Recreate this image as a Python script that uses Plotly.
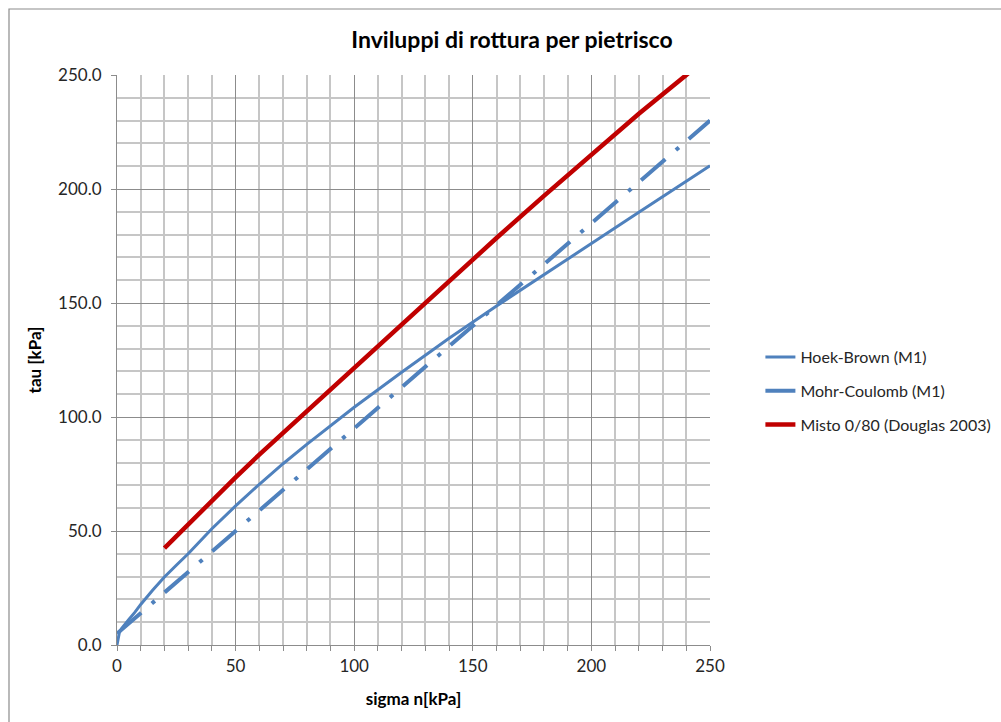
import plotly.graph_objects as go

# Hoek-Brown (M1)
hb_sigma = [0, 0.5, 1, 2, 3, 5, 7.5, 10, 15, 20, 25, 30, 40, 50, 60, 70, 80, 90, 100,
            120, 140, 160, 180, 200, 220, 240, 250]
hb_tau = [0, 3.5, 5.5, 7.3, 8.7, 11.2, 14.3, 17.8, 24, 29.8, 35, 40, 51, 61, 70.5, 79.5, 88,
          96.3, 104.3, 119.6, 134.5, 148.7, 162.5, 176, 189.8, 203.4, 210.2]

# Mohr-Coulomb (M1)
mc_sigma = [0, 50, 100, 150, 200, 250]
mc_tau = [5, 50, 95, 140, 185, 230]

# Misto 0/80 (Douglas 2003)
mi_sigma = [20, 30, 40, 50, 60, 70, 80, 90, 100, 120, 140, 160, 180, 200, 220, 240, 250]
mi_tau = [42.5, 53, 63.5, 73.5, 83.5, 93, 103, 112.5, 122, 141, 160, 178.5, 197, 215,
          233, 250, 259]

FONT = "Lato, Carlito, Calibri, sans-serif"

fig = go.Figure()
fig.add_trace(go.Scatter(x=hb_sigma, y=hb_tau, mode="lines", name="Hoek-Brown (M1)",
                         line=dict(color="#4f81bd", width=3), legendgroup="a"))
fig.add_trace(go.Scatter(x=mc_sigma, y=mc_tau, mode="lines", name="Mohr-Coulomb (M1)",
                         line=dict(color="#4f81bd", width=4, dash="32px,14px,4px,13px"),
                         legendgroup="b"))
fig.add_trace(go.Scatter(x=mi_sigma, y=mi_tau, mode="lines", name="Misto 0/80 (Douglas 2003)",
                         line=dict(color="#c00000", width=4.5), legendgroup="c"))

fig.update_layout(
    width=1001, height=722,
    margin=dict(l=117, r=291, t=75, b=77, autoexpand=False),
    paper_bgcolor="white", plot_bgcolor="white",
    font=dict(family=FONT, size=16, color="#262626"),
    title=dict(text="<b>Inviluppi di rottura per pietrisco</b>", x=0.5115, xref="container",
               y=1 - 40 / 722, yref="container", xanchor="center", yanchor="middle",
               font=dict(size=23, color="#000000")),
    showlegend=True,
    legend=dict(x=1.085, xanchor="left", y=0.535, yanchor="top",
                font=dict(size=16, color="#262626"), tracegroupgap=10,
                bgcolor="rgba(0,0,0,0)"),
    xaxis=dict(range=[0, 250], dtick=50, tick0=0, showgrid=True, gridcolor="#8c8c8c",
               gridwidth=1.2, showline=True, linecolor="#8c8c8c", linewidth=1.2,
               ticks="outside", ticklen=5, tickcolor="#8c8c8c", zeroline=False,
               minor=dict(dtick=10, showgrid=True, gridcolor="#c6c6c6", gridwidth=1.5,
                          ticks="outside", ticklen=5, tickcolor="#8c8c8c"),
               title=dict(text="<b>sigma n[kPa]</b>", standoff=18, font=dict(size=17, color="#000")),
               tickfont=dict(size=17), mirror=False),
    yaxis=dict(range=[0, 250], dtick=50, tick0=0, showgrid=True, gridcolor="#8c8c8c",
               gridwidth=1.2, showline=True, linecolor="#8c8c8c", linewidth=1.2,
               ticks="outside", ticklen=5, tickcolor="#8c8c8c", zeroline=False,
               tickformat=".1f", ticklabelstandoff=6,
               minor=dict(dtick=10, showgrid=True, gridcolor="#c6c6c6", gridwidth=1.5),
               title=dict(text="<b>tau [kPa]</b>", standoff=12, font=dict(size=17, color="#000")),
               tickfont=dict(size=17)),
    shapes=[dict(type="rect", xref="paper", yref="paper",
                 x0=(9 - 117) / 593, x1=(1010 - 117) / 593,
                 y0=(645 - 730) / 570, y1=(645 - 9) / 570,
                 line=dict(color="#8c8c8c", width=1.2), fillcolor="rgba(0,0,0,0)", layer="below")],
)

fig.write_html("out.html")
